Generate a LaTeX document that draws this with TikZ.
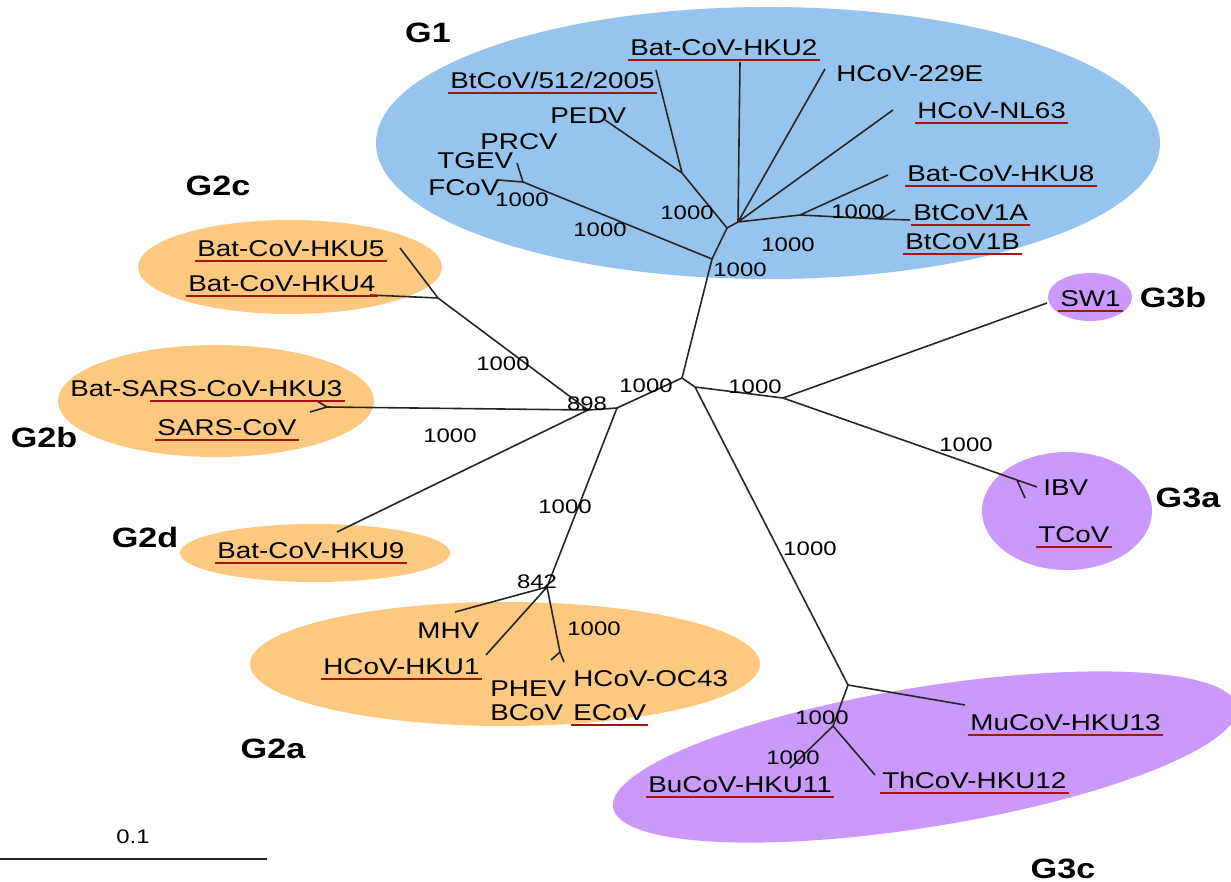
\documentclass[tikz,border=0pt]{standalone}
\usepackage{fontspec}
\setmainfont{Liberation Sans}[FakeStretch=1.22]
\usepackage{xcolor}
\usepackage{tikz}
\usetikzlibrary{positioning}

\definecolor{cladeblue}{RGB}{150,196,236}
\definecolor{cladeorange}{RGB}{253,201,128}
\definecolor{cladepurple}{RGB}{203,153,252}
\definecolor{ulred}{RGB}{165,20,20}

\tikzset{
  branch/.style={line width=0.8pt, black!85},
  ulline/.style={draw=ulred, line width=1pt},
  taxon/.style={font=\fontsize{11.4}{13}\selectfont, inner xsep=1pt, inner ysep=2.2pt,
    text height=8.1pt, text depth=0pt, anchor=west},
  ultaxon/.style={taxon, append after command={(\tikzlastnode.south west) edge[ulline] (\tikzlastnode.south east)}},
  boot/.style={font=\fontsize{9.8}{11}\selectfont, inner sep=0pt, text height=7pt, text depth=0pt},
  grp/.style={font=\fontsize{14}{16}\selectfont\bfseries, inner sep=0pt, text height=10pt, text depth=0pt},
}

\begin{document}
\begin{tikzpicture}[x=0.5pt, y=-0.5pt]
  \useasboundingbox (0,0) rectangle (1231,882);
  % clade backgrounds
  \fill[cladeblue] (768,143) ellipse (392 and 136);      % G1
  \fill[cladeorange] (290,267) ellipse (152 and 47);     % G2c
  \fill[cladeorange] (216,401) ellipse (158 and 56);     % G2b
  \fill[cladeorange] (315,553) ellipse (135 and 29);     % G2d
  \fill[cladeorange] (505,664) ellipse (255 and 62);     % G2a
  \fill[cladepurple] (1090,297) ellipse (42 and 24);     % G3b
  \fill[cladepurple] (1067,511) ellipse (85 and 59);     % G3a
  \fill[cladepurple, rotate around={9.2:(925,757)}] (925,757) ellipse (316 and 70); % G3c

  % inner nodes of the tree
  \coordinate (nR) at (682,378);
  \coordinate (n1) at (712,259);
  \coordinate (n2) at (727,228);
  \coordinate (n3) at (682,173);
  \coordinate (n4) at (738,222);
  \coordinate (n5) at (800,215);
  \coordinate (n6) at (880,219);
  \coordinate (nTG) at (523,182);
  \coordinate (nA) at (617,408);
  \coordinate (nB) at (588,410);
  \coordinate (nC) at (438,298);
  \coordinate (hb) at (327,407);
  \coordinate (n842) at (547,587);
  \coordinate (nOC) at (560,652);
  \coordinate (nG3) at (695,387);
  \coordinate (n3ab) at (783,398);
  \coordinate (nIB) at (1017,480);
  \coordinate (n3c) at (848,685);
  \coordinate (n3c2) at (833,726);
  % tips
  \coordinate (tHKU2) at (740,62);
  \coordinate (t512) at (656,70);
  \coordinate (tPEDV) at (605,120);
  \coordinate (tTGEV) at (517,163);
  \coordinate (tFCoV) at (498,180);
  \coordinate (t229E) at (825,69);
  \coordinate (tNL63) at (893,110);
  \coordinate (tHKU8) at (888,175);
  \coordinate (t1A) at (895,210);
  \coordinate (t1B) at (910,220);
  \coordinate (tHKU5) at (400,248);
  \coordinate (tHKU4) at (370,295);
  \coordinate (tHKU3) at (317,401);
  \coordinate (tSARS) at (310,412);
  \coordinate (tHKU9) at (337,532);
  \coordinate (tMHV) at (455,612);
  \coordinate (tHKU1) at (486,655);
  \coordinate (tOC43) at (564,662);
  \coordinate (tPHEV) at (551,660);
  \coordinate (tSW1) at (1047,303);
  \coordinate (tIBV) at (1037,487);
  \coordinate (tTCoV) at (1025,498);
  \coordinate (tHKU13) at (965,705);
  \coordinate (tHKU11) at (790,768);
  \coordinate (tHKU12) at (875,775);

  % branches
  \draw[branch] (nR) -- (n1) (n1) -- (nTG) (nTG) -- (tTGEV) (nTG) -- (tFCoV)
    (n1) -- (n2) (n2) -- (n3) (n3) -- (tPEDV) (n3) -- (t512)
    (n2) -- (n4) (n4) -- (tHKU2) (n4) -- (t229E) (n4) -- (tNL63)
    (n4) -- (n5) (n5) -- (tHKU8) (n5) -- (n6) (n6) -- (t1A) (n6) -- (t1B);
  \draw[branch] (nR) -- (nA) (nA) -- (nB) (nB) -- (nC) (nC) -- (tHKU5) (nC) -- (tHKU4)
    (nB) -- (hb) (hb) -- (tHKU3) (hb) -- (tSARS) (nB) -- (tHKU9)
    (nA) -- (n842) (n842) -- (tMHV) (n842) -- (tHKU1) (n842) -- (nOC)
    (nOC) -- (tOC43) (nOC) -- (tPHEV);
  \draw[branch] (nR) -- (nG3) (nG3) -- (n3ab) (n3ab) -- (tSW1) (n3ab) -- (nIB)
    (nIB) -- (tIBV) (nIB) -- (tTCoV) (nG3) -- (n3c) (n3c) -- (tHKU13)
    (n3c) -- (n3c2) (n3c2) -- (tHKU11) (n3c2) -- (tHKU12);

  % group labels
  \node[grp] (g1) at (428,33) {G1};
  \node[grp] (g2c) at (218,186) {G2c};
  \node[grp] (g2b) at (44,437) {G2b};
  \node[grp] (g2d) at (145,537) {G2d};
  \node[grp] (g2a) at (273,748) {G2a};
  \node[grp] (g3b) at (1173,297) {G3b};
  \node[grp] (g3a) at (1188,497) {G3a};
  \node[grp] (g3c) at (1063,868) {G3c};

  % G1 taxa
  \node[ultaxon] (hku2) at (628,47) {Bat-CoV-HKU2};
  \node[ultaxon] (bt512) at (448,80) {BtCoV/512/2005};
  \node[taxon] (pedv) at (548,115) {PEDV};
  \node[taxon] (prcv) at (478,141) {PRCV};
  \node[taxon] (tgev) at (435,160) {TGEV};
  \node[taxon] (fcov) at (426,187) {FCoV};
  \node[taxon] (hcov229e) at (834,73) {HCoV-229E};
  \node[ultaxon] (nl63) at (915,110) {HCoV-NL63};
  \node[ultaxon] (hku8) at (905,173) {Bat-CoV-HKU8};
  \node[ultaxon] (bt1a) at (911,212) {BtCoV1A};
  \node[ultaxon] (bt1b) at (903,241) {BtCoV1B};
  % G2 taxa
  \node[ultaxon] (hku5) at (195,248) {Bat-CoV-HKU5};
  \node[ultaxon] (hku4) at (186,283) {Bat-CoV-HKU4};
  \node[taxon] (hku3) at (68,388) {Bat-SARS-CoV-HKU3};
  \draw[ulline] ([xshift=41pt]hku3.south west) -- (hku3.south east);
  \node[ultaxon] (sars) at (155,427) {SARS-CoV};
  \node[ultaxon] (hku9) at (215,550) {Bat-CoV-HKU9};
  \node[taxon] (mhv) at (415,630) {MHV};
  \node[ultaxon] (hku1) at (321,666) {HCoV-HKU1};
  \node[taxon] (phev) at (488,688) {PHEV};
  \node[taxon] (bcov) at (488,712) {BCoV};
  \node[taxon] (oc43) at (571,678) {HCoV-OC43};
  \node[ultaxon] (ecov) at (571,712) {ECoV};
  % G3 taxa
  \node[ultaxon] (sw1) at (1058,298) {SW1};
  \node[taxon] (ibv) at (1041,487) {IBV};
  \node[ultaxon] (tcov) at (1036,534) {TCoV};
  \node[ultaxon] (hku13) at (968,722) {MuCoV-HKU13};
  \node[ultaxon] (hku11) at (646,784) {BuCoV-HKU11};
  \node[ultaxon] (hku12) at (880,780) {ThCoV-HKU12};

  % bootstrap values
  \node[boot] (b1) at (522,200) {1000};
  \node[boot] (b2) at (600,230) {1000};
  \node[boot] (b3) at (687,213) {1000};
  \node[boot] (b4) at (740,270) {1000};
  \node[boot] (b5) at (788,245) {1000};
  \node[boot] (b6) at (858,212) {1000};
  \node[boot] (b7) at (503,363) {1000};
  \node[boot] (b8) at (587,403) {898};
  \node[boot] (b9) at (646,385) {1000};
  \node[boot] (b10) at (755,386) {1000};
  \node[boot] (b11) at (450,435) {1000};
  \node[boot] (b12) at (565,506) {1000};
  \node[boot] (b13) at (537,581) {842};
  \node[boot] (b14) at (594,628) {1000};
  \node[boot] (b15) at (810,548) {1000};
  \node[boot] (b16) at (966,444) {1000};
  \node[boot] (b17) at (822,717) {1000};
  \node[boot] (b18) at (793,757) {1000};

  % scale bar
  \coordinate (sb0) at (0,859);
  \coordinate (sb1) at (267,859);
  \draw[branch] (sb0) -- (sb1);
  \node[boot] (sbl) at (133,836) {0.1};
\end{tikzpicture}
\end{document}
